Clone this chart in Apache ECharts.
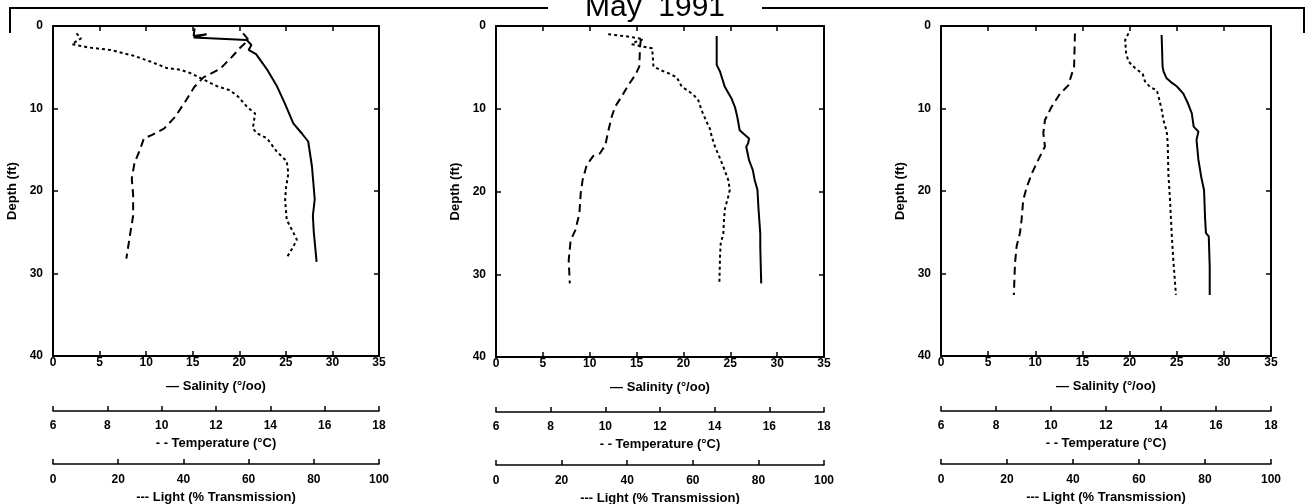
<!DOCTYPE html>
<html>
<head>
<meta charset="utf-8">
<script src="https://cdn.jsdelivr.net/npm/echarts@6/dist/echarts.min.js"></script>
<style>
  html, body { margin: 0; padding: 0; background: #fff; }
  #chart { width: 1306px; height: 504px; }
</style>
</head>
<body>
<div id="chart"></div>
<script>
// ---------- data ----------
const titleText = 'May  1991';
const salinityTicks = [0, 5, 10, 15, 20, 25, 30, 35];
const temperatureTicks = [6, 8, 10, 12, 14, 16, 18];
const lightTicks = [0, 20, 40, 60, 80, 100];
const depthTicks = [0, 10, 20, 30, 40];
const salinityName = '\u2014 Salinity (\u00b0/oo)';
const temperatureName = '- - Temperature (\u00b0C)';
const lightName = '--- Light (% Transmission)';
const depthName = 'Depth (ft)';

// [value, depth ft]
const p1Salinity = [[15.2,0.3],[15.1,1.2],[16.5,1.0],[15.1,1.4],[20.8,1.7],[21.3,2.3],[21.0,2.9],[21.8,3.4],[22.3,4.2],[23.0,5.3],[24.0,7.2],[24.9,9.4],[25.8,11.8],[26.7,13.0],[27.4,14.0],[27.8,17.0],[28.1,21.0],[27.9,23.0],[28.0,25.0],[28.3,28.6]];
const p1Temperature = [[13.0,0.9],[13.2,1.7],[12.9,2.6],[12.6,3.7],[12.15,5.2],[11.55,6.2],[11.2,7.4],[10.9,9.0],[10.5,11.0],[10.1,12.4],[9.65,13.2],[9.35,13.6],[9.2,15.0],[9.0,16.6],[8.9,18.5],[8.95,20.5],[8.95,23.0],[8.85,25.0],[8.7,28.2]];
const p1Light = [[7.2,0.9],[8.6,1.5],[5.8,2.2],[10.9,2.6],[17.6,2.9],[24.7,3.6],[29.8,4.3],[34.9,5.1],[39.0,5.3],[42.1,5.7],[46.2,6.5],[50.3,7.3],[54.3,7.8],[56.9,8.6],[59.5,9.8],[62.0,10.6],[61.3,12.4],[62.5,13.0],[65.6,13.6],[68.6,15.2],[71.7,16.4],[72.2,17.9],[71.5,19.5],[71.2,21.1],[71.7,23.5],[73.8,25.1],[74.8,25.9],[73.5,26.9],[71.5,28.2]];

const p2Salinity = [[23.55,1.2],[23.55,4.7],[23.9,5.5],[24.4,7.3],[25.1,8.7],[25.5,9.8],[25.75,11.0],[26.0,12.6],[26.6,13.2],[27.0,13.6],[26.9,14.2],[26.7,14.6],[27.0,16.2],[27.4,17.4],[27.6,18.6],[27.9,19.8],[28.0,21.9],[28.2,25.1],[28.2,26.7],[28.3,31.1]];
const p2Temperature = [[11.3,1.6],[11.27,2.5],[11.24,4.9],[11.1,5.9],[10.85,7.1],[10.6,8.5],[10.35,9.8],[10.23,11.0],[10.1,12.8],[10.0,14.4],[9.8,15.4],[9.56,15.7],[9.32,16.8],[9.17,18.6],[9.1,20.2],[9.05,22.7],[8.9,24.7],[8.73,25.9],[8.66,28.3],[8.7,31.1]];
const p2Light = [[34.2,1.0],[40.9,1.3],[44.9,1.6],[42.7,1.9],[41.4,2.2],[44.9,2.5],[47.6,2.7],[47.8,3.7],[48.0,4.9],[50.0,5.3],[52.5,5.7],[55.1,6.2],[56.6,7.3],[60.2,8.3],[61.7,9.0],[62.7,10.2],[64.0,11.4],[65.2,12.4],[65.8,13.4],[66.8,14.6],[68.3,16.0],[69.3,17.0],[70.8,18.6],[71.3,19.8],[70.8,20.6],[69.8,22.1],[69.5,23.5],[69.3,25.1],[68.5,26.3],[68.3,27.9],[68.1,31.1]];

const p3Salinity = [[23.4,1.1],[23.5,4.9],[23.6,5.5],[23.9,6.3],[24.5,6.9],[25.0,7.3],[25.7,8.2],[26.2,9.4],[26.6,10.6],[26.8,12.2],[27.3,12.8],[27.1,13.8],[27.3,16.2],[27.6,18.3],[27.9,19.9],[28.0,23.1],[28.1,25.1],[28.4,25.5],[28.5,29.2],[28.5,32.6]];
const p3Temperature = [[10.87,0.9],[10.84,4.9],[10.63,7.2],[10.33,8.2],[10.02,9.8],[9.78,11.4],[9.72,13.0],[9.78,14.6],[9.54,16.2],[9.3,17.9],[9.12,19.5],[8.99,21.1],[8.93,23.5],[8.87,25.1],[8.75,26.7],[8.69,28.8],[8.65,32.6]];
const p3Light = [[56.8,0.9],[55.8,1.7],[56.1,3.3],[56.8,4.3],[58.8,5.1],[61.1,5.8],[61.8,6.7],[63.3,7.4],[65.4,7.8],[66.2,9.0],[66.9,10.2],[67.4,11.4],[68.4,12.8],[68.7,14.2],[68.9,17.9],[69.4,21.1],[69.9,25.1],[70.4,28.4],[71.2,32.6]];

const panels = [
  { sal: p1Salinity, temp: p1Temperature, light: p1Light },
  { sal: p2Salinity, temp: p2Temperature, light: p2Light },
  { sal: p3Salinity, temp: p3Temperature, light: p3Light }
];

// ---------- layout ----------
const gridBoxes = [
  { left: 53, top: 26, width: 326, height: 330 },
  { left: 496, top: 26, width: 328, height: 331 },
  { left: 941, top: 26, width: 330, height: 330 }
];
const FONT = "'Liberation Sans', Arial, sans-serif";
const ink = '#000';

function range(t) { return { min: t[0], max: t[t.length - 1], interval: t[1] - t[0] }; }

const grid = [], xAxis = [], yAxis = [], series = [];
gridBoxes.forEach((g, i) => {
  grid.push(Object.assign({ show: false, outerBoundsMode: 'none', containLabel: false }, g));
  const labelStyle = { color: ink, fontFamily: FONT, fontWeight: 'bold', fontSize: 12 };
  const nameStyle = { color: ink, fontFamily: FONT, fontWeight: 'bold', fontSize: 13 };
  const line = (w) => ({ show: true, onZero: false, lineStyle: { color: ink, width: w } });
  const tick = { show: true, inside: true, length: 5, lineStyle: { color: ink, width: 1.5 } };
  // salinity (bottom of box)
  xAxis.push({
    type: 'value', gridIndex: i, position: 'bottom', ...range(salinityTicks),
    axisLine: line(2), axisTick: tick,
    axisLabel: { show: true, margin: 1, ...labelStyle },
    splitLine: { show: false },
    name: salinityName, nameLocation: 'middle', nameGap: 24, nameTextStyle: nameStyle
  });
  // top mirror
  xAxis.push({
    type: 'value', gridIndex: i, position: 'top', ...range(salinityTicks),
    axisLine: line(2), axisTick: tick,
    axisLabel: { show: false }, splitLine: { show: false }
  });
  // temperature
  xAxis.push({
    type: 'value', gridIndex: i, position: 'bottom', offset: 55, ...range(temperatureTicks),
    axisLine: line(1.5), axisTick: tick,
    axisLabel: { show: true, margin: 9, ...labelStyle },
    splitLine: { show: false },
    name: temperatureName, nameLocation: 'middle', nameGap: 21, nameTextStyle: nameStyle
  });
  // light
  xAxis.push({
    type: 'value', gridIndex: i, position: 'bottom', offset: 108, ...range(lightTicks),
    axisLine: line(1.5), axisTick: tick,
    axisLabel: { show: true, margin: 10, ...labelStyle },
    splitLine: { show: false },
    name: lightName, nameLocation: 'middle', nameGap: 22, nameTextStyle: nameStyle
  });
  // depth left
  yAxis.push({
    type: 'value', gridIndex: i, position: 'left', inverse: true, ...range(depthTicks),
    axisLine: line(2), axisTick: tick,
    axisLabel: { show: true, margin: 10, ...labelStyle },
    splitLine: { show: false },
    name: depthName, nameLocation: 'middle', nameGap: 34, nameTextStyle: nameStyle
  });
  // depth right
  yAxis.push({
    type: 'value', gridIndex: i, position: 'right', inverse: true, ...range(depthTicks),
    axisLine: line(2), axisTick: tick,
    axisLabel: { show: false }, splitLine: { show: false }
  });

  const p = panels[i];
  const base = { type: 'line', symbol: 'none', showSymbol: false, yAxisIndex: i * 2, animation: false, clip: false, silent: true };
  series.push(Object.assign({}, base, { name: 'Salinity', xAxisIndex: i * 4, data: p.sal, lineStyle: { color: ink, width: 2, type: 'solid' } }));
  series.push(Object.assign({}, base, { name: 'Temperature', xAxisIndex: i * 4 + 2, data: p.temp, lineStyle: { color: ink, width: 2, type: [8, 5] } }));
  series.push(Object.assign({}, base, { name: 'Light', xAxisIndex: i * 4 + 3, data: p.light, lineStyle: { color: ink, width: 2, type: [3, 3] } }));
});

const chart = echarts.init(document.getElementById('chart'), null, { renderer: 'canvas' });
chart.setOption({
  backgroundColor: '#fff',
  animation: false,
  grid, xAxis, yAxis, series,
  graphic: [
    { type: 'polyline', shape: { points: [[10, 33], [10, 8], [548, 8]] }, style: { stroke: ink, lineWidth: 2, fill: null } },
    { type: 'polyline', shape: { points: [[762, 8], [1304, 8], [1304, 33]] }, style: { stroke: ink, lineWidth: 2, fill: null } },
    { type: 'text', x: 655, y: 7.5, style: { text: titleText, font: "30px 'Liberation Sans', Arial, sans-serif", fill: ink, align: 'center', verticalAlign: 'middle' } }
  ]
});
</script>
</body>
</html>
